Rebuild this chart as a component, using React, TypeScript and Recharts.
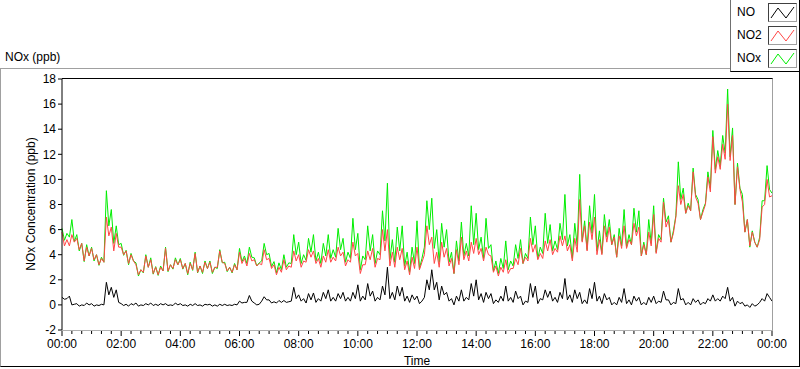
import React from "react";
import { LineChart, Line, XAxis, YAxis } from "recharts";

// one reading every 5 minutes, 00:00 -> 24:00 (289 points), one row = 2 hours
const no2 = [
  5.8, 4.7, 5.2, 4.7, 5.6, 5.0, 5.3, 4.4, 4.9, 3.5, 4.6, 3.9, 4.5, 3.6, 4.0, 3.2, 3.7, 3.4, 7.0, 5.5, 6.2, 4.3, 5.7, 4.6,
  4.6, 4.0, 4.3, 3.3, 4.0, 3.5, 3.2, 2.4, 2.8, 2.6, 3.9, 3.0, 3.6, 2.5, 3.0, 2.4, 3.0, 2.7, 4.5, 2.7, 3.2, 2.9, 3.6, 3.2,
  3.6, 2.9, 3.3, 2.5, 3.3, 2.8, 4.1, 2.6, 3.1, 2.6, 3.4, 2.9, 3.4, 2.6, 3.0, 3.0, 4.3, 3.4, 3.3, 2.7, 3.0, 2.6, 3.2, 2.8,
  4.2, 3.3, 3.7, 3.1, 4.1, 3.5, 3.6, 3.1, 3.3, 3.2, 4.4, 3.6, 3.7, 2.9, 3.2, 2.4, 3.0, 2.6, 3.6, 2.8, 3.1, 3.0, 4.3, 3.5,
  4.0, 3.0, 3.5, 3.4, 4.4, 3.8, 4.3, 3.3, 3.7, 3.0, 3.9, 3.4, 4.4, 3.4, 3.8, 3.5, 4.6, 3.9, 4.2, 3.1, 3.6, 3.4, 5.0, 3.9,
  4.1, 2.5, 3.2, 3.2, 4.3, 3.6, 4.5, 3.0, 3.7, 3.6, 6.0, 4.3, 6.0, 3.1, 4.2, 3.0, 4.6, 3.6, 4.5, 2.8, 3.5, 2.4, 3.8, 2.9,
  4.6, 2.8, 3.4, 4.0, 6.3, 4.8, 5.4, 3.3, 4.2, 3.0, 5.0, 3.8, 4.5, 3.1, 3.7, 2.5, 4.4, 3.2, 5.4, 3.6, 4.3, 3.5, 5.0, 4.1,
  5.3, 4.0, 4.5, 3.5, 4.6, 4.0, 3.9, 2.6, 3.1, 2.3, 3.0, 2.6, 3.6, 2.5, 2.9, 2.9, 3.7, 3.2, 4.5, 3.3, 3.8, 3.5, 5.3, 4.2,
  4.8, 3.6, 4.1, 3.7, 5.1, 4.3, 5.2, 4.0, 4.5, 4.2, 5.5, 4.7, 5.5, 4.3, 4.8, 3.5, 5.3, 4.2, 8.4, 5.0, 6.3, 4.3, 6.6, 5.2,
  7.0, 4.0, 5.2, 4.0, 6.3, 5.0, 6.2, 4.8, 5.4, 3.8, 5.5, 4.5, 6.3, 4.5, 5.2, 4.8, 6.5, 5.5, 6.2, 3.9, 4.8, 4.0, 5.8, 4.7,
  7.2, 4.1, 5.3, 5.0, 8.2, 6.2, 6.8, 5.0, 5.7, 7.0, 9.5, 8.0, 8.8, 7.3, 7.9, 7.5, 10.6, 8.6, 8.1, 6.8, 7.4, 8.0, 10.2, 9.0,
  13.4, 10.5, 11.8, 10.8, 12.8, 11.6, 16.0, 11.5, 13.5, 8.0, 11.0, 9.2, 8.2, 5.8, 6.8, 4.7, 5.8, 5.0, 4.6, 5.2, 7.8, 8.0, 10.0, 8.6,
  8.7,
];

const nox = [
  6.1, 5.15, 5.7, 5.4, 6.8, 5.05, 5.6, 4.3, 4.9, 3.45, 4.8, 3.9, 4.6, 3.5, 4.0, 3.15, 3.8, 3.4, 9.1, 6.3, 7.6, 4.9, 6.3, 4.8,
  4.9, 3.95, 4.35, 3.2, 4.1, 3.5, 3.35, 2.3, 2.8, 2.55, 4.0, 3.0, 3.75, 2.45, 3.05, 2.35, 3.1, 2.7, 4.6, 2.65, 3.2, 2.85, 3.75, 3.2,
  3.7, 2.85, 3.3, 2.4, 3.4, 2.75, 4.2, 2.55, 3.1, 2.5, 3.5, 2.9, 3.5, 2.5, 3.0, 2.9, 4.4, 3.35, 3.4, 2.65, 3.0, 2.55, 3.3, 2.8,
  4.5, 3.45, 3.9, 3.3, 4.6, 3.8, 3.75, 3.1, 3.35, 3.5, 4.9, 4.0, 4.1, 3.05, 3.45, 2.55, 3.35, 2.8, 4.0, 3.0, 3.35, 3.3, 5.6, 4.0,
  5.0, 3.3, 4.0, 3.55, 5.3, 4.2, 5.6, 3.5, 4.2, 3.3, 4.9, 3.9, 5.6, 3.7, 4.4, 3.8, 6.1, 4.4, 5.3, 3.4, 4.2, 3.7, 6.9, 4.4,
  5.7, 2.8, 3.9, 3.6, 6.3, 4.3, 5.6, 3.3, 4.3, 4.0, 7.5, 5.1, 9.7, 3.6, 5.2, 3.4, 6.2, 4.3, 6.3, 3.1, 4.2, 2.6, 4.6, 3.3,
  6.7, 2.9, 3.7, 4.6, 8.3, 6.0, 8.5, 4.5, 6.0, 3.4, 6.5, 4.6, 6.0, 3.4, 4.2, 2.5, 5.1, 3.5, 6.6, 3.9, 4.9, 3.9, 7.9, 4.8,
  7.3, 4.4, 5.4, 3.7, 6.9, 4.5, 4.8, 2.7, 3.5, 2.5, 3.7, 2.9, 5.1, 2.8, 3.5, 3.1, 4.8, 3.7, 5.2, 3.3, 4.1, 3.7, 7.0, 4.8,
  6.3, 3.7, 4.6, 4.1, 7.3, 4.9, 6.4, 4.3, 5.1, 4.4, 6.5, 5.2, 8.8, 4.7, 5.6, 3.7, 6.5, 4.7, 10.4, 5.1, 6.7, 4.4, 7.9, 5.7,
  8.8, 4.3, 5.9, 4.1, 7.2, 5.4, 6.8, 4.8, 5.6, 3.8, 6.1, 4.7, 7.6, 4.6, 5.6, 4.8, 7.7, 5.8, 7.5, 3.9, 5.0, 4.0, 6.8, 4.9,
  7.9, 4.2, 5.6, 5.2, 8.5, 6.6, 7.1, 5.0, 5.9, 7.1, 11.4, 8.4, 9.3, 7.3, 8.1, 7.5, 10.9, 8.8, 8.4, 6.8, 7.6, 8.1, 10.6, 9.3,
  13.9, 10.8, 12.3, 11.1, 13.5, 12.1, 17.2, 11.8, 14.1, 8.0, 11.3, 9.3, 8.8, 5.8, 6.8, 4.6, 5.9, 5.0, 4.6, 5.4, 8.3, 8.3, 11.1, 9.2,
  8.9,
];

const no = [
  0.6, 0.45, 0.5, 0.7, 0.0, 0.05, 0.1, -0.1, 0.0, -0.05, 0.15, 0.0, 0.1, -0.1, 0.0, -0.05, 0.05, 0.0, 1.8, 0.8, 1.4, 0.6, 1.2, 0.2,
  0.1, -0.05, 0.05, -0.1, 0.1, 0.0, 0.15, -0.1, 0.0, -0.05, 0.1, 0.0, 0.15, -0.05, 0.05, -0.05, 0.1, 0.0, 0.1, -0.05, 0.0, -0.05, 0.15, 0.0,
  0.1, -0.05, 0.0, -0.1, 0.05, -0.05, 0.1, -0.05, 0.0, -0.1, 0.05, 0.0, 0.05, -0.1, 0.0, -0.1, 0.05, -0.05, 0.05, -0.05, 0.0, -0.05, 0.05, 0.0,
  0.3, 0.15, 0.2, 0.2, 0.75, 0.3, 0.15, 0.0, 0.05, 0.3, 0.65, 0.4, 0.4, 0.15, 0.25, 0.15, 0.35, 0.2, 0.35, 0.2, 0.25, 0.3, 1.4, 0.5,
  0.8, 0.3, 0.5, 0.15, 0.9, 0.4, 0.95, 0.2, 0.5, 0.3, 1.0, 0.5, 1.2, 0.3, 0.6, 0.3, 0.9, 0.5, 1.0, 0.3, 0.6, 0.3, 1.0, 0.5,
  1.6, 0.3, 0.7, 0.4, 1.7, 0.7, 1.1, 0.3, 0.6, 0.4, 1.5, 0.8, 3.0, 0.5, 1.0, 0.4, 1.5, 0.7, 1.4, 0.3, 0.7, 0.2, 0.8, 0.4,
  0.7, 0.1, 0.3, 0.6, 2.0, 1.2, 2.8, 1.2, 1.8, 0.4, 1.5, 0.8, 1.0, 0.3, 0.5, 0.0, 0.7, 0.3, 1.2, 0.3, 0.6, 0.4, 1.7, 0.7,
  2.0, 0.4, 0.9, 0.2, 1.0, 0.5, 0.9, 0.1, 0.4, 0.2, 0.7, 0.3, 1.5, 0.3, 0.6, 0.2, 1.1, 0.5, 0.7, 0.0, 0.3, 0.2, 1.7, 0.6,
  1.5, 0.1, 0.5, 0.4, 1.2, 0.6, 1.1, 0.3, 0.6, 0.2, 1.0, 0.5, 2.1, 0.4, 0.8, 0.2, 1.2, 0.5, 1.0, 0.1, 0.4, 0.1, 1.3, 0.5,
  1.8, 0.3, 0.7, 0.1, 0.9, 0.4, 0.6, 0.0, 0.2, 0.0, 0.6, 0.2, 1.3, 0.1, 0.4, 0.0, 0.7, 0.3, 0.6, 0.0, 0.2, 0.0, 0.6, 0.2,
  0.7, 0.1, 0.3, 0.2, 1.1, 0.4, 0.4, 0.0, 0.2, 0.1, 1.3, 0.4, 0.5, 0.0, 0.2, 0.0, 0.5, 0.2, 0.4, 0.0, 0.2, 0.1, 0.5, 0.3,
  0.8, 0.3, 0.5, 0.3, 0.7, 0.5, 1.4, 0.3, 0.6, -0.1, 0.3, 0.1, 0.2, -0.1, 0.0, -0.2, 0.1, -0.1, 0.0, 0.2, 0.5, 0.3, 0.9, 0.6,
  0.3,
];

const hourLabels = [
  "00:00", "02:00", "04:00", "06:00", "08:00", "10:00", "12:00",
  "14:00", "16:00", "18:00", "20:00", "22:00", "00:00",
];
const yTicks = [-2, 0, 2, 4, 6, 8, 10, 12, 14, 16, 18];

const STEP = 5; // minutes between readings
const data = no.map((v, i) => ({ t: i * STEP, no: v, no2: no2[i], nox: nox[i] }));

// minor tick every 20 min, labelled major tick every 2 h
const xTicks: number[] = [];
for (let m = 0; m <= 1440; m += 20) xTicks.push(m);

const series = [
  { key: "NO", color: "#000000" },
  { key: "NO2", color: "#ff4646" },
  { key: "NOx", color: "#00ee00" },
];

const TimeTick = (props: any) => {
  const { x, y, payload } = props;
  const major = payload.value % 120 === 0;
  return (
    <g>
      <line x1={x} x2={x} y1={y + 1} y2={y + (major ? 6 : 4)} stroke="#000" />
      {major && (
        <text x={x} y={y + 18} textAnchor="middle" fontSize={12} fill="#000">
          {hourLabels[payload.value / 120]}
        </text>
      )}
    </g>
  );
};

const Swatch = ({ color }: { color: string }) => (
  <svg width={27} height={17} style={{ display: "block" }}>
    <polyline points="2,14 9,4 17,14 25,3" fill="none" stroke={color} strokeWidth={1} />
  </svg>
);

export default function App() {
  return (
    <div
      style={{
        position: "absolute",
        left: 0,
        top: 0,
        width: 800,
        height: 369,
        background: "#fff",
        overflow: "hidden",
        fontFamily: "'Liberation Sans', Arial, sans-serif",
        fontSize: 12,
        color: "#000",
      }}
    >
      {/* outer frame */}
      <div
        style={{
          position: "absolute",
          left: 0,
          top: 68,
          width: 800,
          height: 299,
          boxSizing: "border-box",
          borderTop: "1px solid #a0a0a0",
          borderLeft: "1px solid #a0a0a0",
          borderRight: "1px solid #000",
          borderBottom: "1px solid #000",
        }}
      />
      <div style={{ position: "absolute", left: 5, top: 50 }}>NOx (ppb)</div>

      <LineChart
        width={800}
        height={369}
        data={data}
        margin={{ top: 79, right: 28, bottom: 9, left: 0 }}
        style={{ position: "absolute", left: 0, top: 0 }}
      >
        <XAxis
          dataKey="t"
          type="number"
          domain={[0, 1440]}
          ticks={xTicks}
          interval={0}
          height={30}
          axisLine={false}
          tickLine={false}
          tickSize={0}
          tickMargin={0}
          tick={<TimeTick />}
        />
        <YAxis
          type="number"
          domain={[-2, 18]}
          ticks={yTicks}
          interval={0}
          width={62}
          tickSize={4}
          tickMargin={2}
          axisLine={{ stroke: "#000" }}
          tickLine={{ stroke: "#000" }}
          tick={{ fill: "#000", fontSize: 12 }}
        />
        <Line type="linear" dataKey="nox" stroke="#00ee00" strokeWidth={1} dot={false} activeDot={false} isAnimationActive={false} />
        <Line type="linear" dataKey="no2" stroke="#ff4646" strokeWidth={1} dot={false} activeDot={false} isAnimationActive={false} />
        <Line type="linear" dataKey="no" stroke="#000000" strokeWidth={1} dot={false} activeDot={false} isAnimationActive={false} />
      </LineChart>

      {/* plot frame: black top, gray right/bottom */}
      <div
        style={{
          position: "absolute",
          left: 62,
          top: 78,
          width: 711,
          height: 253,
          boxSizing: "border-box",
          borderTop: "1px solid #000",
          borderRight: "1px solid #a0a0a0",
          borderBottom: "1px solid #b0b0b0",
          pointerEvents: "none",
        }}
      />

      <div
        style={{
          position: "absolute",
          left: 31,
          top: 204,
          transform: "translate(-50%, -50%) rotate(-90deg)",
          whiteSpace: "nowrap",
        }}
      >
        NOx Concentration (ppb)
      </div>
      <div
        style={{
          position: "absolute",
          left: 417,
          top: 361,
          transform: "translate(-50%, -50%)",
        }}
      >
        Time
      </div>

      {/* legend */}
      <div
        style={{
          position: "absolute",
          left: 730,
          top: 0,
          width: 70,
          height: 72,
          boxSizing: "border-box",
          background: "#fff",
          borderLeft: "1px solid #707070",
          borderBottom: "1px solid #000",
          borderRight: "1px solid #000",
        }}
      >
        {series.map((s, i) => (
          <div key={s.key} style={{ position: "absolute", left: 0, top: 3 + i * 23, width: 68, height: 19 }}>
            <div style={{ position: "absolute", left: 6, top: 2, lineHeight: "14px" }}>{s.key}</div>
            <div
              style={{
                position: "absolute",
                left: 37,
                top: 0,
                width: 29,
                height: 19,
                boxSizing: "border-box",
                borderTop: "1px solid #404040",
                borderLeft: "1px solid #404040",
                borderRight: "1px solid #a0a0a0",
                borderBottom: "1px solid #a0a0a0",
              }}
            >
              <Swatch color={s.color} />
            </div>
          </div>
        ))}
      </div>
    </div>
  );
}
